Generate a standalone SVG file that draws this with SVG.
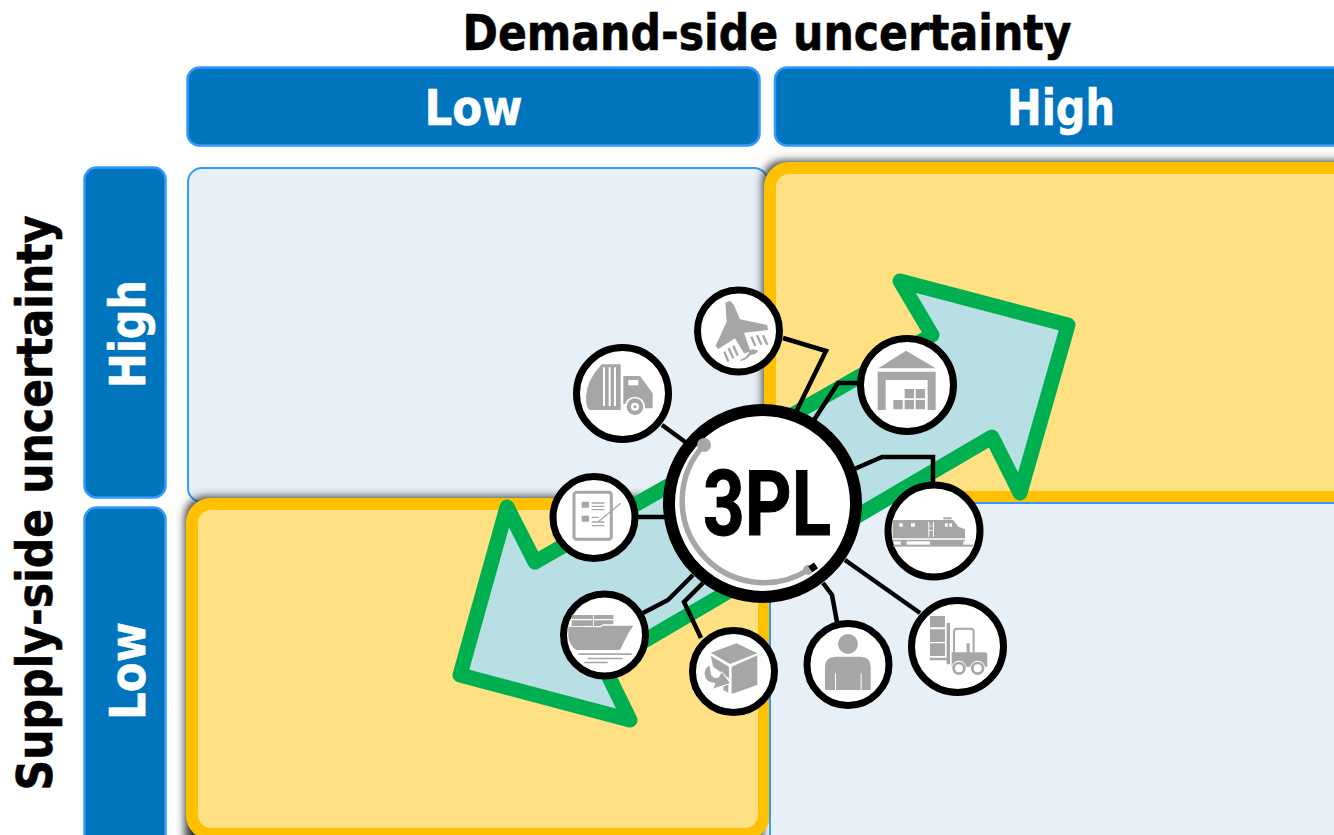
<svg xmlns="http://www.w3.org/2000/svg" width="1334" height="835" viewBox="0 0 1334 835">
<style>
.h{fill:#0075BE;stroke:#3399FF;stroke-width:2.5}
.lt{fill:#E8F0F7;stroke:#3399FF;stroke-width:2}
.yl{fill:#FFE083;stroke:#FFC000;stroke-width:12}
.t{font-family:"DejaVu Sans","Liberation Sans",sans-serif;font-weight:700;stroke-width:.6}
.b{fill:#000;stroke:#000}
.w{fill:#fff;stroke:#fff;font-size:49px;text-anchor:middle}
.c{fill:#fff;stroke:#000;stroke-width:7}
.ln{fill:none;stroke:#000;stroke-width:4.500}
.g{fill:#A6A6A6}
.wh{fill:#fff}
</style>
<defs>
<filter id="sh" x="-5%" y="-5%" width="110%" height="110%"><feGaussianBlur stdDeviation="5"/></filter>
</defs>
<rect width="1334" height="835" fill="#fff"/>
<g id="title-demand"><text class="t b" x="767" y="50" font-size="49" text-anchor="middle" textLength="609" lengthAdjust="spacingAndGlyphs">Demand-side uncertainty</text></g>
<g id="title-supply"><text class="t b" transform="translate(52 503) rotate(-90)" font-size="49" text-anchor="middle" textLength="575" lengthAdjust="spacingAndGlyphs">Supply-side uncertainty</text></g>
<g id="col-low"><rect class="h" x="187.500" y="67.500" width="572" height="78" rx="12"/><text class="t w" x="473.500" y="125" textLength="98" lengthAdjust="spacingAndGlyphs">Low</text></g>
<g id="col-high"><rect class="h" x="775" y="67.500" width="580" height="78" rx="12"/><text class="t w" x="1061" y="125" textLength="108" lengthAdjust="spacingAndGlyphs">High</text></g>
<g id="row-high"><rect class="h" x="84.500" y="167.500" width="81" height="330" rx="12"/><text class="t w" transform="translate(145 334) rotate(-90)" textLength="108" lengthAdjust="spacingAndGlyphs">High</text></g>
<g id="row-low"><rect class="h" x="84.500" y="507.500" width="81" height="345" rx="12"/><text class="t w" transform="translate(145 671) rotate(-90)" textLength="98" lengthAdjust="spacingAndGlyphs">Low</text></g>
<g id="cell-low-high"><rect class="lt" x="188" y="168" width="580" height="334" rx="14"/></g>
<rect x="763" y="161" width="600" height="343" rx="20" fill="#333" filter="url(#sh)"/>
<rect x="185" y="497" width="578" height="360" rx="20" fill="#333" filter="url(#sh)"/>
<g id="cell-high-high"><rect class="yl" x="770" y="168" width="590" height="329" rx="19"/></g>
<g id="cell-low-low"><rect class="yl" x="192" y="504" width="572" height="330" rx="19"/></g>
<g id="cell-high-low"><rect class="lt" x="770" y="503" width="590" height="350" rx="14"/></g>
<g id="double-arrow"><polygon points="900,281 1068,325 1020,493 992,437 603,665 630,720 460,675 507,507 535,562 932,335" fill="#B8DFE3" stroke="#00B050" stroke-width="15" stroke-linejoin="round"/></g>
<g id="connectors">
<polyline class="ln" points="783,338 826,351 796,412"/>
<polyline class="ln" points="662,425 688,444"/>
<polyline class="ln" points="857,383 838,383 814,420"/>
<polyline class="ln" points="852,470 882,457 933,457 933,484"/>
<polyline class="ln" points="845,560 920,613"/>
<polyline class="ln" points="823,583 832,595 837,622"/>
<polyline class="ln" points="703,583 684,602 701,638"/>
<polyline class="ln" points="693,575 668,600 643,613"/>
<polyline class="ln" points="636,517 668,517"/>
</g>
<g id="node-plane"><circle class="c" cx="738.500" cy="331" r="41"/>
<g transform="translate(540 280) scale(.3333)">
<polygon class="g" points="556,68 570,62 582,75 600,118 682,135 684,150 612,158 632,215 612,220 585,175 535,207 527,197 560,125"/>
<path d="M600 240Q625 232 630 210L640 208L655 212Q650 222 632 225Q620 240 602 243Z" class="g"/>
<g fill="none" stroke="#A6A6A6" stroke-width="7"><path d="M553 215L565 245M566 205L580 235M580 197L593 227M634 170L646 198M651 166L664 194M669 166L682 194"/></g>
</g></g>
<g id="node-truck"><circle class="c" cx="622.500" cy="393.500" r="46"/>
<g transform="translate(540 280) scale(.3333)">
<path class="g" d="M185 253H242V390H150Q138 385 138 350Q140 300 185 253Z"/>
<path class="wh" d="M189 262h6v116h-6zM206 262h6v116h-6zM222 262h6v116h-6z"/>
<path class="g" d="M250 288H300L338 340V385H312V372H250Z"/>
<rect class="wh" x="265" y="300" width="30" height="16"/>
<circle cx="285" cy="380" r="30" fill="#fff"/><circle cx="285" cy="380" r="25" class="g"/><circle cx="285" cy="380" r="12" fill="#fff"/><circle cx="285" cy="380" r="5" class="g"/>
</g></g>
<g id="node-warehouse"><circle class="c" cx="907" cy="385" r="46.500"/>
<g transform="translate(780 260) scale(.3333)">
<polygon class="g" points="295,325 378,272 467,325"/>
<path class="g" d="M293 335H467V450H443V360H317V450H293Z"/>
<path class="g" d="M340 420h28v28h-28zM374 420h28v28h-28zM407 420h28v28h-28zM374 387h28v28h-28zM407 387h28v28h-28z"/>
</g></g>
<g id="node-train"><circle class="c" cx="934" cy="531" r="46"/>
<g transform="translate(780 470) scale(.3333)">
<polygon class="g" points="338,150 520,150 535,170 555,178 555,205 338,205"/>
<rect class="g" x="490" y="142" width="25" height="6"/>
<path class="wh" d="M358 160h10v10h-10zM393 160h12v10h-12zM495 160h8v10h-8zM508 160h8v10h-8zM445 155h3v45h-3zM459 155h3v45h-3zM445 167h17v2h-17zM445 180h17v2h-17z"/>
<path class="g" d="M338 209H555V214H338ZM362 212H380V226H362ZM450 212H550V226H450Z"/>
<rect class="g" x="340" y="224" width="240" height="6"/>
</g></g>
<g id="node-forklift"><circle class="c" cx="957.500" cy="646.500" r="46"/>
<g transform="translate(780 470) scale(.3333)">
<path class="g" d="M450 438h45v34h-45zM450 478h45v38h-45zM450 520h45v38h-45zM500 458h10v125h-10zM450 563h60v8h-60z"/>
<path d="M522 550V485Q522 476 531 476H572Q581 476 581 485V545" fill="none" stroke="#A6A6A6" stroke-width="6"/>
<rect class="g" x="560" y="520" width="9" height="30"/>
<path class="g" d="M515 547H615Q622 547 622 555V590H515Z"/>
<circle cx="537" cy="595" r="23" fill="#fff"/><circle cx="593" cy="595" r="23" fill="#fff"/>
<circle cx="537" cy="595" r="20" class="g"/><circle cx="593" cy="595" r="20" class="g"/>
<circle cx="537" cy="595" r="12" fill="#fff"/><circle cx="593" cy="595" r="12" fill="#fff"/>
</g></g>
<g id="node-person"><circle class="c" cx="848" cy="664.500" r="41"/>
<g transform="translate(780 470) scale(.3333)">
<circle class="g" cx="204" cy="522" r="30"/>
<path class="g" d="M135 660V590Q135 560 170 560H240Q272 560 272 590V660H245V610H242V660H168V610H165V660Z"/>
</g></g>
<g id="node-box"><circle class="c" cx="733.500" cy="671.500" r="41"/>
<g transform="translate(540 470) scale(.3333)">
<polygon class="g" points="512,548 590,520 652,550 570,582"/>
<polygon class="g" points="512,557 567,590 567,625 540,605 520,590"/>
<polygon class="g" points="575,590 652,556 652,645 575,672"/>
<polygon class="g" points="550,650 565,642 565,668 550,660"/>
<path class="g" d="M545 605L572 640L518 658L525 640Q495 640 492 610Q495 590 510 585L515 615Q520 625 535 622Z" stroke="#fff" stroke-width="3"/>
</g></g>
<g id="node-ship"><circle class="c" cx="604.500" cy="635" r="41"/>
<g transform="translate(540 470) scale(.3333)">
<path class="g" d="M95 435H220V447H95ZM95 451H220V463H190L180 468H95Z"/>
<rect class="wh" x="159" y="435" width="2.500" height="34"/>
<path class="g" d="M85 470L180 472L190 467H280L265 490L240 540H110Q90 530 85 500Z"/>
<path class="g" d="M115 550h160v5h-160zM143 563h105v5h-105zM133 575h70v5h-70z"/>
</g></g>
<g id="node-form"><circle class="c" cx="594" cy="517.500" r="41"/>
<g transform="translate(540 470) scale(.3333)">
<rect x="102" y="67" width="112" height="141" rx="8" fill="#fff" stroke="#A6A6A6" stroke-width="9"/>
<path class="g" d="M125 95h22v18h-22zM125 137h22v18h-22zM155 97h38v4h-38zM155 107h38v4h-38zM155 117h38v4h-38zM155 140h20v4h-20zM155 154h38v4h-38zM155 165h38v4h-38z"/>
<path d="M175 155L242 100" stroke="#A6A6A6" stroke-width="4" fill="none"/>
</g></g>
<g id="node-3pl"><circle cx="762.500" cy="503.500" r="93.500" fill="#fff" stroke="#000" stroke-width="12"/>
<path d="M704 445A82 82 0 0 0 808 570" fill="none" stroke="#A6A6A6" stroke-width="5.500"/>
<circle cx="704" cy="445" r="7" class="g"/><circle cx="808" cy="570" r="5" class="g"/>
<rect x="810" y="564" width="7" height="7" transform="rotate(-35 813 568)"/>
<text x="767" y="535" font-family="Roboto,'Liberation Sans',sans-serif" font-weight="700" font-size="91" text-anchor="middle" textLength="128" lengthAdjust="spacingAndGlyphs" stroke="#000" stroke-width="1">3PL</text>
</g>
</svg>
